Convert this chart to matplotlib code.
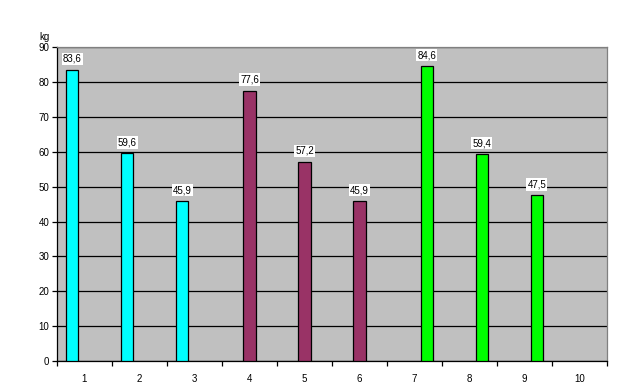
import matplotlib
matplotlib.use("Agg")
import matplotlib.pyplot as plt
import numpy as np

categories = ["1", "2", "3", "4", "5", "6", "7", "8", "9", "10"]
series_a = [83.6, 59.6, 45.9, None, None, None, None, None, None, None]
series_b = [None, None, None, 77.6, 57.2, 45.9, None, None, None, None]
series_c = [None, None, None, None, None, None, 84.6, 59.4, 47.5, None]
colors = ["#00ffff", "#993366", "#00ff00"]
y_ticks = [0, 10, 20, 30, 40, 50, 60, 70, 80, 90]

plt.rcParams['font.family'] = ['Liberation Sans', 'DejaVu Sans']
fig = plt.figure(figsize=(6.17, 3.89), dpi=100)
ax = fig.add_axes([57/617, 28/389, 550/617, 313.7/389])
ax.set_facecolor("#c0c0c0")

n = len(categories)
x = np.arange(n)
w = 1 / 4.5
for i, (s, c) in enumerate(zip([series_a, series_b, series_c], colors)):
    xs = [x[j] + (i - 1) * w for j in range(n) if s[j] is not None]
    vs = [s[j] for j in range(n) if s[j] is not None]
    ax.bar(xs, vs, width=w, color=c, edgecolor="black", linewidth=0.9, zorder=3)
    for xx, v in zip(xs, vs):
        ax.text(xx, v + 1.7, f"{v:.1f}".replace(".", ","), ha="center", va="bottom",
                fontsize=7, zorder=4,
                bbox=dict(boxstyle="square,pad=0.12", fc="white", ec="none"))

ax.set_xlim(-0.5, n - 0.5)
ax.set_ylim(0, 90)
ax.set_yticks(y_ticks)
ax.yaxis.grid(True, color="black", linewidth=0.9, zorder=1)
ax.set_axisbelow(True)
ax.set_xticks(x)
ax.set_xticklabels(categories)
ax.set_xticks(np.arange(-0.5, n, 1), minor=True)
ax.tick_params(axis="x", which="major", length=0, pad=9, labelsize=7)
ax.tick_params(axis="x", which="minor", length=3.5, width=0.9, direction="out")
ax.tick_params(axis="y", length=3.5, width=0.9, direction="out", pad=2, labelsize=7)
for sp in ["top", "right"]:
    ax.spines[sp].set_color("#808080")
    ax.spines[sp].set_linewidth(0.9)
for sp in ["left", "bottom"]:
    ax.spines[sp].set_color("black")
    ax.spines[sp].set_linewidth(0.9)
fig.text(44/617, 1 - 37/389, "kg", ha="center", va="center", fontsize=7)
fig.savefig("out.png", dpi=100)
